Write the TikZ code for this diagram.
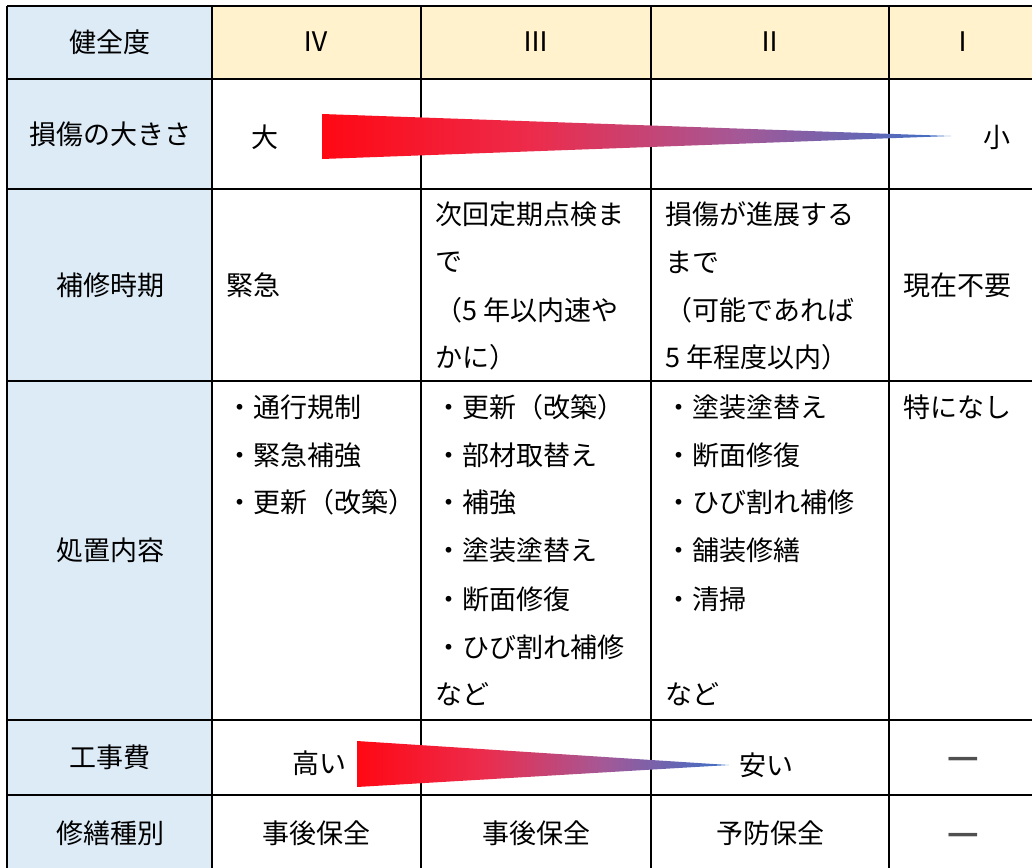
\documentclass[tikz,border=0pt]{standalone}
\usepackage{fontspec}
\newfontfamily\jpfont{Noto Sans CJK JP}
\newfontfamily\dashfont{DejaVu Sans}
\usepackage{tikz}

\definecolor{hdyellow}{RGB}{255,242,204}
\definecolor{lblblue}{RGB}{221,235,247}
\definecolor{dashgray}{RGB}{80,80,80}
\definecolor{wedgeA}{RGB}{255,8,20}
\definecolor{wedgeB}{RGB}{236,44,76}
\definecolor{wedgeC}{RGB}{165,88,150}
\definecolor{wedgeD}{RGB}{58,112,200}
\pgfdeclarehorizontalshading{redblue}{100bp}{color(0bp)=(wedgeA); color(25bp)=(wedgeA); color(42bp)=(wedgeB); color(58bp)=(wedgeC); color(75bp)=(wedgeD); color(100bp)=(wedgeD)}

\begin{document}
\begin{tikzpicture}[x=0.5pt, y=-0.5pt,
        txt/.style={font=\jpfont\fontsize{13.5}{16}\selectfont, inner sep=0pt},
        lft/.style={txt, anchor=west},
        nodash/.style={inner sep=0pt, font=\dashfont\bfseries\fontsize{13.5}{16}\selectfont, dashgray, xscale=1.06},
        grid/.style={line width=1.2pt, black}]
        \useasboundingbox (0,0) rectangle (1032,867);
        
        % backgrounds
        \fill[lblblue] (7,6) rectangle (212,871);
        \fill[hdyellow] (212,6) rectangle (1037,79);
        
        % table lines
        \foreach \y in {6,79,189,381,720,795,871} {
            \draw[grid] (7,\y) -- (1037,\y);
        }
        \foreach \x in {7,212,421,651,889,1037} {
            \draw[grid] (\x,6) -- (\x,871);
        }
        
        % header row
        \node[txt] (hd) at (110,42) {健全度};
        \foreach \n/\x/\t in {4/316/Ⅳ, 3/536/Ⅲ, 2/770/Ⅱ, 1/963/Ⅰ} {
            \node[txt] (hd\n) at (\x,42) {\t};
        }
        
        % row labels
        \foreach \n/\y/\t in {1/134/損傷の大きさ, 2/285/補修時期, 3/550/処置内容, 4/757/工事費, 5/833/修繕種別} {
            \node[txt] (lbl\n) at (110,\y) {\t};
        }
        
        % damage size
        \node[txt] (big) at (265,137) {大};
        \node[txt] (small) at (997,137) {小};
        \shade[shading=redblue] (322,114) -- (951,136) -- (322,159) -- cycle;
        
        % repair timing
        \node[lft] (urgent) at (226,285) {緊急};
        \foreach \i/\y/\t in {1/214/次回定期点検ま, 2/262/で, 3/310/（5 年以内速や, 4/357/かに）} {
            \node[lft] (timeC\i) at (435,\y) {\t};
        }
        \foreach \i/\y/\t in {1/214/損傷が進展する, 2/262/まで, 3/310/（可能であれば, 4/357/5 年程度以内）} {
            \node[lft] (timeB\i) at (665,\y) {\t};
        }
        \node[lft] (notnow) at (903,285) {現在不要};
        
        % measures
        \foreach \i/\y/\t in {1/407/・通行規制, 2/455/・緊急補強, 3/502/・更新（改築）} {
            \node[lft] (actD\i) at (226,\y) {\t};
        }
        \foreach \i/\y/\t in {1/407/・更新（改築）, 2/455/・部材取替え, 3/502/・補強, 4/550/・塗装塗替え, 5/599/・断面修復, 6/647/・ひび割れ補修, 7/694/など} {
            \node[lft] (actC\i) at (435,\y) {\t};
        }
        \foreach \i/\y/\t in {1/407/・塗装塗替え, 2/455/・断面修復, 3/502/・ひび割れ補修, 4/550/・舗装修繕, 5/599/・清掃, 6/694/など} {
            \node[lft] (actB\i) at (665,\y) {\t};
        }
        \node[lft] (nothing) at (903,407) {特になし};
        
        % cost
        \node[txt] (high) at (319,763) {高い};
        \node[txt] (low) at (766,765) {安い};
        \shade[shading=redblue] (357,741) -- (729,765) -- (357,787) -- cycle;
        \node[nodash] (costA) at (963,762) {―};
        
        % repair type
        \foreach \n/\x/\t in {4/316/事後保全, 3/536/事後保全, 2/770/予防保全} {
            \node[txt] (kind\n) at (\x,833) {\t};
        }
        \node[nodash] (kind1) at (963,838) {―};
        
    \end{tikzpicture}
\end{document}
